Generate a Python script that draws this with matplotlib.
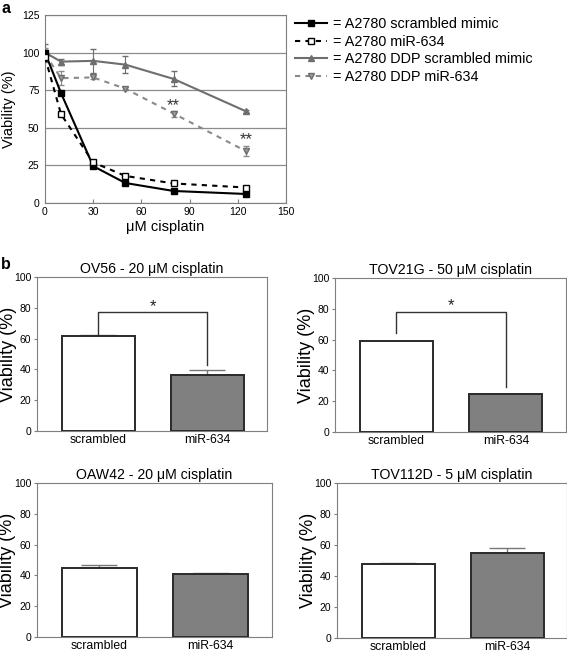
import numpy as np
import matplotlib.pyplot as plt
from matplotlib.lines import Line2D

plt.rcParams['font.family'] = ['Liberation Sans', 'DejaVu Sans']

# Panel a: dose response
dose = [0, 10, 30, 50, 80, 125]
a2780_scr = [100, 73, 24.5, 13.3, 8, 6]
a2780_scr_err = [1.5, 1, 1, 0.8, 0.6, 0.6]
a2780_mir = [97, 59, 27, 18, 13, 10.3]
a2780_mir_err = [2, 1, 1, 0.8, 0.6, 0.6]
ddp_scr = [100, 94, 94.5, 92, 82.5, 61]
ddp_scr_err = [6, 2, 8, 5.5, 5, 1]
ddp_mir = [99, 83, 83.5, 76, 59.5, 34.5]
ddp_mir_err = [4, 4.5, 1, 1, 2, 3.5]
legend_labels = ["= A2780 scrambled mimic", "= A2780 miR-634",
                 "= A2780 DDP scrambled mimic", "= A2780 DDP miR-634"]
star_x = [80, 125]
star_y = [65, 42]

# Panel b: bar charts
groups = ["scrambled", "miR-634"]
titles = ["OV56 - 20 \u03bcM cisplatin", "TOV21G - 50 \u03bcM cisplatin",
          "OAW42 - 20 \u03bcM cisplatin", "TOV112D - 5 \u03bcM cisplatin"]
bar_vals = [[62, 36.5], [59, 24.5], [45, 41], [48, 55]]
bar_errs = [[0.5, 3], [0.3, 0.4], [1.5, 0.5], [0.3, 3]]
# significance bracket: (height, left drop, right drop) or None
brackets = [(77, 63, 43), (78, 64, 29), None, None]

W, H = 567, 653
fig = plt.figure(figsize=(W / 100, H / 100), dpi=100)


def px_axes(left, top, right, bottom):
    return fig.add_axes([left / W, 1 - bottom / H, (right - left) / W, (bottom - top) / H])


spine_col = '#7f7f7f'

# styles per series
styles = [
    dict(color='black', ls='-', marker='s', ms=4.5, mfc='black', mec='black'),
    dict(color='black', ls=(0, (2.5, 2.5)), marker='s', ms=4.5, mfc='white', mec='black'),
    dict(color='#6e6e6e', ls='-', marker='^', ms=5, mfc='#6e6e6e', mec='#6e6e6e'),
    dict(color='#8a8a8a', ls=(0, (2.5, 2.5)), marker='v', ms=5, mfc='#9a9a9a', mec='#6e6e6e'),
]
series = [(a2780_scr, a2780_scr_err), (a2780_mir, a2780_mir_err),
          (ddp_scr, ddp_scr_err), (ddp_mir, ddp_mir_err)]

# ---- panel a ----
ax = px_axes(45, 15, 286, 203)
for k, ((vals, errs), st) in enumerate(zip(series, styles)):
    ax.errorbar(dose, vals, yerr=errs, lw=1.5, capsize=2.5, elinewidth=0.8,
                ecolor=st['color'], zorder=4 - k // 2, **st)
for sx, sy in zip(star_x, star_y):
    ax.text(sx, sy, "**", ha='center', va='center', fontsize=12, color='#333333')

ax.set_xlim(0, 150)
ax.set_ylim(0, 125)
ax.set_xticks([0, 30, 60, 90, 120, 150])
ax.set_yticks([0, 25, 50, 75, 100, 125])
ax.yaxis.grid(True, color='#8c8c8c', lw=0.9)
ax.set_axisbelow(True)
for s in ax.spines.values():
    s.set_color(spine_col)
ax.tick_params(axis='x', direction='in', length=3, color=spine_col, labelsize=7.5, pad=3)
ax.tick_params(axis='y', direction='out', length=0, labelsize=7.5, pad=4)
ax.set_xlabel("\u03bcM cisplatin", fontsize=10.5, labelpad=2)
ax.set_ylabel("Viability (%)", fontsize=10.5)
ax.yaxis.set_label_coords(-0.122, 0.5)

handles = [Line2D([], [], lw=1.5, **st) for st in styles]
fig.legend(handles, legend_labels, loc='upper left',
           bbox_to_anchor=(295 / W, 1 - 17 / H), frameon=False, fontsize=10.4,
           handlelength=2.2, handletextpad=0.4, labelspacing=0.25, borderpad=0,
           borderaxespad=0)

fig.text(1 / W, 1 - 1 / H, "a", fontsize=11.5, fontweight='bold', va='top', ha='left')
fig.text(1 / W, 1 - 265 / H, "b", fontsize=11.5, fontweight='bold', va='center', ha='left')

# ---- panel b ----
rects = [(37, 277, 267, 431), (335, 278, 566, 432), (37, 483, 272, 637), (337, 483, 567, 638)]
x = np.arange(len(groups))
for i, (r, title, vals, errs, br) in enumerate(zip(rects, titles, bar_vals, bar_errs, brackets)):
    bx = px_axes(*r)
    bx.bar(x, vals, width=0.67, color=['white', '#808080'], edgecolor='#2a2a2a', lw=1.4, zorder=3)
    for xi, v, e in zip(x, vals, errs):
        bx.errorbar(xi, v, yerr=[[0], [e]], color='#777777', lw=1, capsize=13, capthick=1, zorder=2)
    if br is not None:
        h, dl, dr = br
        bx.plot([0, 0, 1, 1], [dl, h, h, dr], color='#333333', lw=1)
        bx.text(0.5, h + 4, "*", ha='center', va='center', fontsize=12, color='#222222')
    bx.set_xlim(-0.56, 1.55)
    bx.set_ylim(0, 100)
    bx.set_yticks([0, 20, 40, 60, 80, 100])
    bx.set_xticks(x)
    bx.set_xticklabels(groups, fontsize=8.8)
    bx.tick_params(axis='x', length=0, pad=2)
    bx.tick_params(axis='y', direction='out', length=2, color=spine_col, labelsize=7.5, pad=2)
    for s in bx.spines.values():
        s.set_color(spine_col)
    bx.set_title(title, fontsize=10.2, pad=3)
    bx.set_ylabel("Viability (%)", fontsize=13)
    bx.yaxis.set_label_coords(-0.088, 0.5)

fig.savefig("out.png", dpi=100)
